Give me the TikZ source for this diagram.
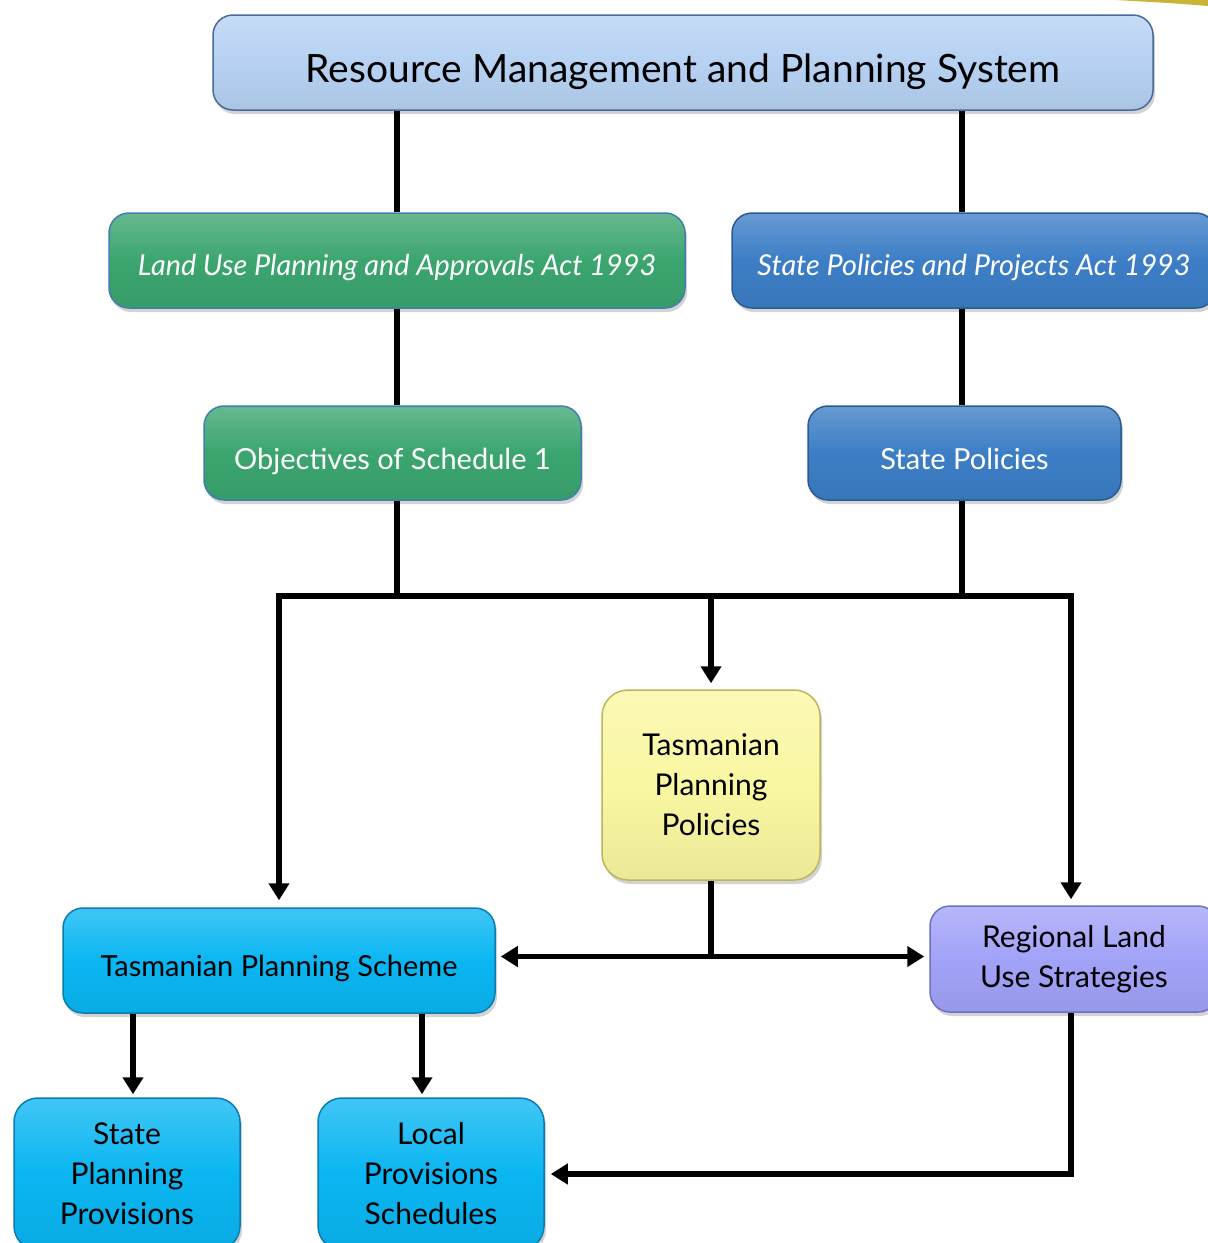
\documentclass[tikz,border=0pt]{standalone}
\usepackage{fontspec}
\setmainfont{Lato}
\usetikzlibrary{arrows.meta,shadows,calc}
\definecolor{rmpsC}{HTML}{B6D1F2}
\definecolor{rmpsD}{HTML}{4A6A9A}
\definecolor{greenC}{HTML}{3BA56F}
\definecolor{greenD}{HTML}{3F7FB0}
\definecolor{blueC}{HTML}{3C7EC6}
\definecolor{blueD}{HTML}{2A5C94}
\definecolor{yelC}{HTML}{FAF7A2}
\definecolor{yelD}{HTML}{BDB55A}
\definecolor{cyanC}{HTML}{0AB6F2}
\definecolor{cyanD}{HTML}{0A7DB0}
\definecolor{lavC}{HTML}{A2A2F8}
\definecolor{lavD}{HTML}{7070C0}
\definecolor{goldC}{HTML}{C9B43A}
\begin{document}
\begin{tikzpicture}[x=1pt,y=-1pt,
  box/.style={rounded corners=20pt, line width=1.5pt, align=center, inner sep=0pt,
    drop shadow={shadow xshift=2pt,shadow yshift=-4pt,opacity=0.35}},
  glossy/.style 2 args={box, draw=#2, top color=#1!78!white, bottom color=#1!94!black, middle color=#1},
  conn/.style={line width=5.5pt},
  arr/.style={line width=5.5pt, -{Triangle[width=20pt,length=17pt]}},
  big/.style={font=\fontsize{39}{46}\selectfont, text height=39pt, text depth=0pt},
  med/.style={font=\fontsize{30}{40}\selectfont},
  one/.style={font=\fontsize{29}{38}\selectfont, text height=32pt, text depth=0pt},
  oneit/.style={font=\fontsize{28.8}{38}\selectfont\itshape, text height=30pt, text depth=0pt},
]
\useasboundingbox (0,0) rectangle (1208,1243);
\fill[goldC] (1115,0) -- (1208,0) -- (1208,6) .. controls (1170,3) .. (1115,0) -- cycle;

\node[glossy={rmpsC}{rmpsD}, big, minimum width=940pt, minimum height=95pt] (rmps) at (683,62.5) {Resource Management and Planning System};
\node[glossy={greenC}{greenD}, oneit, text=white, minimum width=576pt, minimum height=95pt] (lupaa) at (397,260.5) {Land Use Planning and Approvals Act 1993};
\node[glossy={blueC}{blueD}, oneit, text=white, minimum width=484pt, minimum height=95pt] (sppa) at (974,260.5) {State Policies and Projects Act 1993};
\node[glossy={greenC}{greenD}, one, text=white, minimum width=377pt, minimum height=94pt] (obj) at (392.5,453) {Objectives of Schedule 1};
\node[glossy={blueC}{blueD}, one, text=white, minimum width=313pt, minimum height=94pt] (sp) at (964.5,453) {State Policies};
\node[glossy={yelC}{yelD}, med, rounded corners=26pt, minimum width=218pt, minimum height=190pt] (tpp) at (711,785) {Tasmanian\\Planning\\Policies};
\node[glossy={cyanC}{cyanD}, one, minimum width=432pt, minimum height=105pt] (tps) at (279,960.5) {Tasmanian Planning Scheme};
\node[glossy={lavC}{lavD}, med, minimum width=288pt, minimum height=106pt] (rlus) at (1074,959) {Regional Land\\Use Strategies};
\node[glossy={cyanC}{cyanD}, med, rounded corners=24pt, minimum width=226pt, minimum height=152pt] (spp) at (127,1174) {State\\Planning\\Provisions};
\node[glossy={cyanC}{cyanD}, med, rounded corners=24pt, minimum width=226pt, minimum height=152pt] (lps) at (431,1174) {Local\\Provisions\\Schedules};

% top connectors
\draw[conn] (lupaa.north) -- (lupaa.north |- rmps.south);
\draw[conn] ([xshift=-2.5pt]sp.north |- sppa.north) -- ([xshift=-2.5pt]sp.north |- rmps.south);
\draw[conn] (lupaa.south) -- (lupaa.south |- obj.north);
\draw[conn] ([xshift=-2.5pt]sp.north) -- ([xshift=-2.5pt]sp.north |- sppa.south);

% junction
\coordinate (jl) at ([yshift=-95pt]tps.north |- obj.south);
\coordinate (jm) at (tpp.north |- jl);
\coordinate (jr) at ([xshift=-3pt]rlus.north |- jl);
\draw[conn] (lupaa.south |- obj.south) -- (lupaa.south |- jl);
\draw[conn] ([xshift=-2.5pt]sp.south) -- ([xshift=-2.5pt]sp.south |- jl);
\draw[conn, line cap=rect] (jl) -- (jr);
\draw[arr] (jl) -- ([yshift=7pt]tps.north);
\draw[arr] (jm) -- ([yshift=6pt]tpp.north);
\draw[arr] (jr) -- ([xshift=-3pt,yshift=6pt]rlus.north);

% TPP to TPS and RLUS
\coordinate (tj) at ([yshift=4pt]tpp.south |- tps.east);
\draw[conn] (tpp.south) -- (tj);
\draw[arr] (tj) -- ([xshift=5pt]tps.east |- tj);
\draw[arr] (tj) -- ([xshift=-5pt]rlus.west |- tj);

% TPS to SPP and LPS
\draw[arr] ([xshift=6pt]spp.north |- tps.south) -- ([xshift=6pt,yshift=3pt]spp.north);
\draw[arr] ([xshift=-9pt]lps.north |- tps.south) -- ([xshift=-9pt,yshift=3pt]lps.north);

% RLUS to LPS
\coordinate (rc) at ([xshift=-3pt]rlus.south |- lps.east);
\draw[conn] ([xshift=-3pt]rlus.south) -- ([yshift=-2.75pt]rc);
\draw[arr] (rc) -- ([xshift=6pt]lps.east);
\end{tikzpicture}
\end{document}
